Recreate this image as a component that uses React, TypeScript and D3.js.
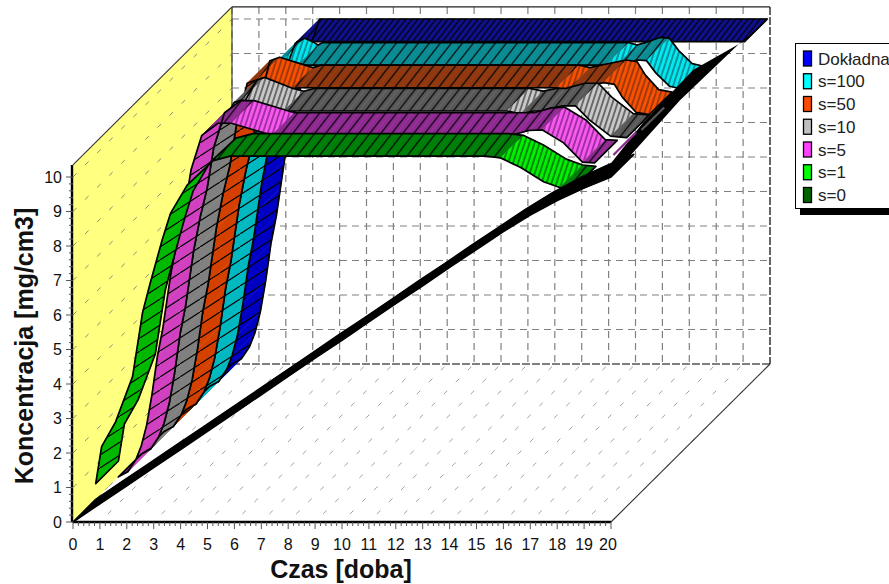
import React from 'react';
import * as d3 from 'd3';

// rising part shared by the middle ribbons
const riseTimes = [0, 0.35, 0.65, 0.85, 1.05, 1.25, 1.45, 1.65, 1.8, 1.95, 2.2, 2.45, 2.7, 2.95];
const riseValues = [0, 0.15, 0.5, 0.9, 1.5, 2.4, 3.5, 4.3, 5.1, 5.9, 6.9, 7.7, 8.9, 9.5];

const exactTimes = [0, 0.35, 0.65, 0.85, 1.05, 1.25, 1.45, 1.65, 1.8, 1.95, 2.2, 2.45, 2.95, 3.26, 19.9];
const exactValues = [0, 0.15, 0.5, 0.9, 1.5, 2.4, 3.5, 4.3, 5.1, 5.9, 6.9, 7.7, 9.3, 10, 10];

const s100Times = [3.2, 3.55, 3.9, 4.05, 4.2, 15.6, 15.9, 16.2, 16.75, 17.1, 17.45, 17.95, 18.3];
const s100Values = [9.95, 10.1, 9.97, 9.9, 9.97, 9.97, 9.9, 9.97, 10.12, 10.1, 9.74, 9.36, 9.3];

const s50Times = [3.1, 3.46, 4.4, 4.7, 5, 14.6, 15, 15.4, 16.35, 16.75, 17.05, 17.55, 18.05];
const s50Values = [10.1, 10.2, 9.97, 9.9, 9.97, 9.97, 9.9, 9.97, 10.12, 10.07, 9.69, 9.26, 9.19];

const s10Times = [3.46, 3.75, 4.8, 5.2, 5.6, 13.6, 14.1, 14.6, 14.95, 15.65, 16.15, 16.65, 17.45, 18.05];
const s10Values = [10.2, 10.27, 9.95, 9.87, 9.95, 9.95, 9.87, 9.95, 9.95, 10.1, 10.1, 9.7, 9.22, 9.18];

const s5Times = [3.1, 3.7, 4.2, 5.7, 14.6, 15.25, 15.75, 16.55, 17.25, 17.7];
const s5Values = [9.9, 10.25, 10.25, 9.9, 9.9, 10.04, 10.06, 9.68, 9.12, 9.1];

const s1Times = [0, 0.22, 0.74, 1.37, 1.74, 2.03, 2.47, 2.78, 3.4, 4.37, 5, 14.5, 15.05, 15.8, 16.65, 17.25, 17.75];
const s1Values = [0.46, 1.53, 2.25, 3.56, 5.41, 6.28, 7.52, 8.29, 9.11, 9.82, 9.95, 9.95, 9.9, 9.62, 9.21, 9.04, 9];

const s0Times = d3.range(0, 21);
const s0Values = [0, 0.53, 1.05, 1.58, 2.1, 2.63, 3.16, 3.69, 4.22, 4.75, 5.27, 5.8, 6.33, 6.85, 7.38, 7.9, 8.42, 8.9, 9.32, 9.68, 10];

// the black rim at the right hand end of the ribbons (t = 20)
const rimLowerDepth = [0, 0.057, 0.434, 0.811, 0.987];
const rimLowerLevel = [10, 10.03, 10.24, 10.17, 10.03];
const rimUpperDepth = [0.83, 0.516, 0.2, 0];
const rimUpperLevel = [10.12, 10.74, 10.65, 10.4];

const labels = ['Dokładna', 's=100', 's=50', 's=10', 's=5', 's=1', 's=0'];
const swatches = ['#0000ff', '#00ffff', '#ff4a00', '#c0c0c0', '#ff40ff', '#00ff00', '#006400'];
const riseColors = ['#0000c4', '#00b8c0', '#d44000', '#808080', '#d040c0', '#00b800', '#000000'];
const flatColors = ['#10108c', '#0c8a92', '#8c3810', '#585858', '#8c2a90', '#007c08', '#000000'];
const dipColors = ['#1818b0', '#00e8f0', '#f85000', '#c8c8c8', '#f858f0', '#00f000', '#000000'];
const dipDark = ['#10108c', '#0a9098', '#a03808', '#686868', '#a030a0', '#008808', '#000000'];

const seriesTimes = [
  exactTimes,
  [...riseTimes.slice(0, 13), ...s100Times],
  [...riseTimes.slice(0, 13), ...s50Times],
  [...riseTimes, ...s10Times],
  [...riseTimes.slice(0, 13), ...s5Times],
  s1Times,
  s0Times,
];
const seriesValues = [
  exactValues,
  [...riseValues.slice(0, 13), ...s100Values],
  [...riseValues.slice(0, 13), ...s50Values],
  [...riseValues, ...s10Values],
  [...riseValues.slice(0, 13), ...s5Values],
  s1Values,
  s0Values,
];

// depth slots, back to front
const slotCount = 7;
// small end pieces seen beside the rim: [series, time, value]
const endPieces: [number, number, number][] = [
  [3, 18.6, 9.4],
  [4, 18.4, 9.33],
];

const xScale = d3.scaleLinear().domain([0, 20]).range([73, 611]);
const yScale = d3.scaleLinear().domain([0, 10]).range([522, 177]);
const dxScale = d3.scaleLinear().domain([0, 1]).range([0, 159]);
const dyScale = d3.scaleLinear().domain([0, 1]).range([0, -158]);

const maxLevel = 10.35;
const project = (t: number, c: number, d: number): [number, number] => [
  xScale(t) + dxScale(d),
  yScale(c) + dyScale(d),
];
const path = d3.line();
const closed = (pts: [number, number][]) => path(pts) + 'Z';

const kind = (c0: number, c1: number, t0: number, t1: number) => {
  const s = (c1 - c0) / (t1 - t0);
  if (s > 0.7) return 'rise';
  if (s < -0.12) return 'dip';
  return 'flat';
};

const xTicks = d3.range(0, 21);
const yTicks = d3.range(0, 11);
const minorX = d3.range(0, 20.01, 0.2);
const minorY = d3.range(0, 10.01, 0.2);

export default function App() {
  const font = '"Liberation Sans", Arial, sans-serif';
  const [bx0, by0] = project(0, 0, 1);
  const [bx1] = project(20, 0, 1);
  const [, byTop] = project(0, maxLevel, 1);
  const [, fyTop] = project(0, maxLevel, 0);

  return (
    <svg
      width={889}
      height={584}
      style={{ position: 'absolute', left: 0, top: 0, background: '#fff' }}
      fontFamily={font}
    >
      <defs>
        {labels.map((_, i) => (
          <React.Fragment key={i}>
            <pattern id={`rise${i}`} patternUnits="userSpaceOnUse" width={20} height={13}>
              <rect width={20} height={13} fill={riseColors[i]} />
              <line x1={0} y1={13} x2={20} y2={0} stroke="#000" strokeWidth={1.1} />
            </pattern>
            <pattern
              id={`flat${i}`}
              patternUnits="userSpaceOnUse"
              width={i === 0 ? 6 : 11}
              height={12}
              patternTransform="skewX(-38)"
            >
              <rect width={12} height={12} fill={flatColors[i]} />
              <line x1={1} y1={0} x2={1} y2={12} stroke="#000" strokeWidth={1.4} />
              {i > 0 && i < 6 && (
                <line x1={6} y1={0} x2={6} y2={12} stroke={dipDark[i]} strokeWidth={1.2} />
              )}
            </pattern>
            <pattern
              id={`dip${i}`}
              patternUnits="userSpaceOnUse"
              width={5}
              height={10}
              patternTransform="skewX(-18)"
            >
              <rect width={5} height={10} fill={dipColors[i]} />
              <line x1={1} y1={0} x2={1} y2={10} stroke={dipDark[i]} strokeWidth={2} />
            </pattern>
          </React.Fragment>
        ))}
      </defs>

      {/* left wall */}
      <path
        d={closed([project(0, 0, 0), project(0, maxLevel, 0), project(0, maxLevel, 1), project(0, 0, 1)])}
        fill="#ffff80"
      />
      {yTicks.map((c) => (
        <line
          key={c}
          x1={xScale(0)}
          y1={yScale(c)}
          x2={bx0}
          y2={yScale(c) + dyScale(1)}
          stroke="#8c8c7c"
          strokeDasharray="5 12"
        />
      ))}

      {/* floor grid */}
      {xTicks.map((t) => (
        <line
          key={t}
          x1={xScale(t) + 8}
          y1={yScale(0) - 8}
          x2={xScale(t) + dxScale(1)}
          y2={yScale(0) + dyScale(1)}
          stroke="#a0a0a0"
          strokeDasharray="5 12"
        />
      ))}

      {/* back wall grid */}
      {xTicks.map((t) => (
        <line
          key={t}
          x1={xScale(t) + dxScale(1)}
          y1={byTop}
          x2={xScale(t) + dxScale(1)}
          y2={by0}
          stroke={t === 20 ? '#000' : '#808080'}
          strokeDasharray={t === 20 ? '8 2' : '7 5'}
          strokeWidth={1.2}
        />
      ))}
      {yTicks.map((c) => (
        <line
          key={c}
          x1={bx0}
          y1={yScale(c) + dyScale(1)}
          x2={bx1}
          y2={yScale(c) + dyScale(1)}
          stroke={c === 0 ? '#000' : '#808080'}
          strokeDasharray={c === 0 ? '8 2' : '7 5'}
          strokeWidth={1.2}
        />
      ))}

      {/* frame */}
      <line x1={bx0} y1={byTop} x2={bx1} y2={byTop} stroke="#222" strokeWidth={1.3} />
      <line x1={bx0} y1={byTop} x2={bx0} y2={by0} stroke="#444" strokeWidth={1.2} />
      <line x1={xScale(0)} y1={fyTop} x2={bx0} y2={byTop} stroke="#333" strokeWidth={1.1} />
      <line x1={xScale(20)} y1={yScale(0)} x2={bx1} y2={by0} stroke="#333" strokeWidth={1.1} />

      {/* ribbons, back to front */}
      {labels.map((_, i) => {
        const ts = seriesTimes[i];
        const cs = seriesValues[i];
        const d0 = (slotCount - 1 - i) / slotCount;
        const d1 = (slotCount - i) / slotCount;
        const front = ts.map((t, j) => project(t, cs[j], d0));
        const back = ts.map((t, j) => project(t, cs[j], d1));
        return (
          <g key={i}>
            {ts.slice(1).map((t, j) => (
              <path
                key={j}
                d={closed([front[j], front[j + 1], back[j + 1], back[j]])}
                fill={`url(#${kind(cs[j], cs[j + 1], ts[j], t)}${i})`}
                stroke={`url(#${kind(cs[j], cs[j + 1], ts[j], t)}${i})`}
                strokeWidth={0.6}
              />
            ))}
            <path
              d={closed([...front, ...back.slice().reverse()])}
              fill={i === 6 ? '#000' : 'none'}
              stroke="#000"
              strokeWidth={1.7}
              strokeLinejoin="round"
            />
          </g>
        );
      })}

      {/* black rim */}
      <path
        d={closed([
          ...rimLowerDepth.map((d, i) => project(20, rimLowerLevel[i], d)),
          ...rimUpperDepth.map((d, i) => project(20, rimUpperLevel[i], d)),
        ])}
        fill="#000"
      />

      {/* end pieces */}
      {endPieces.map(([i, t, c]) => {
        const a = project(t, c, (slotCount - 1 - i) / slotCount);
        const b = project(t, c, (slotCount - i) / slotCount);
        return <line key={i} x1={a[0]} y1={a[1]} x2={b[0]} y2={b[1]} stroke={flatColors[i]} strokeWidth={2.2} />;
      })}

      {/* axes */}
      <line x1={xScale(0)} y1={yScale(0)} x2={xScale(20)} y2={yScale(0)} stroke="#000" strokeWidth={2.4} />
      <line x1={xScale(0) - 1} y1={yScale(0)} x2={xScale(0) - 1} y2={fyTop} stroke="#000" strokeWidth={2.4} />
      {minorX.map((t, i) => (
        <line
          key={i}
          x1={xScale(t)}
          x2={xScale(t)}
          y1={yScale(0)}
          y2={yScale(0) + (i % 5 === 0 ? 7 : 4)}
          stroke="#555"
        />
      ))}
      {minorY.map((c, i) => (
        <line
          key={i}
          x1={xScale(0) - (i % 5 === 0 ? 7 : 4)}
          x2={xScale(0)}
          y1={yScale(c)}
          y2={yScale(c)}
          stroke="#555"
        />
      ))}
      {xTicks.map((t) => (
        <text key={t} x={xScale(t) - (t === 20 ? 3 : 0)} y={550} fontSize={16} textAnchor="middle" fill="#111">
          {t}
        </text>
      ))}
      {yTicks.map((c) => (
        <text key={c} x={62} y={yScale(c) + 5.5} fontSize={16} textAnchor="end" fill="#111">
          {c}
        </text>
      ))}
      <text x={341} y={578} fontSize={25} fontWeight="bold" textAnchor="middle" fill="#111">
        Czas [doba]
      </text>
      <text
        transform="translate(33,346) rotate(-90)"
        fontSize={25}
        fontWeight="bold"
        textAnchor="middle"
        fill="#111"
      >
        Koncentracja [mg/cm3]
      </text>

      {/* legend */}
      <rect x={800} y={209} width={89} height={6} fill="#000" />
      <rect x={795.5} y={43.5} width={100} height={165} fill="#fff" stroke="#000" />
      {labels.map((label, i) => {
        const yRow = d3.scaleLinear().domain([0, 6]).range([58.5, 195])(i);
        return (
          <g key={label}>
            <rect x={803.5} y={yRow - 7.5} width={8} height={15} fill={swatches[i]} stroke="#000" strokeWidth={1.3} />
            <text x={818} y={yRow + 6} fontSize={17} fill="#222">
              {label}
            </text>
          </g>
        );
      })}
    </svg>
  );
}
